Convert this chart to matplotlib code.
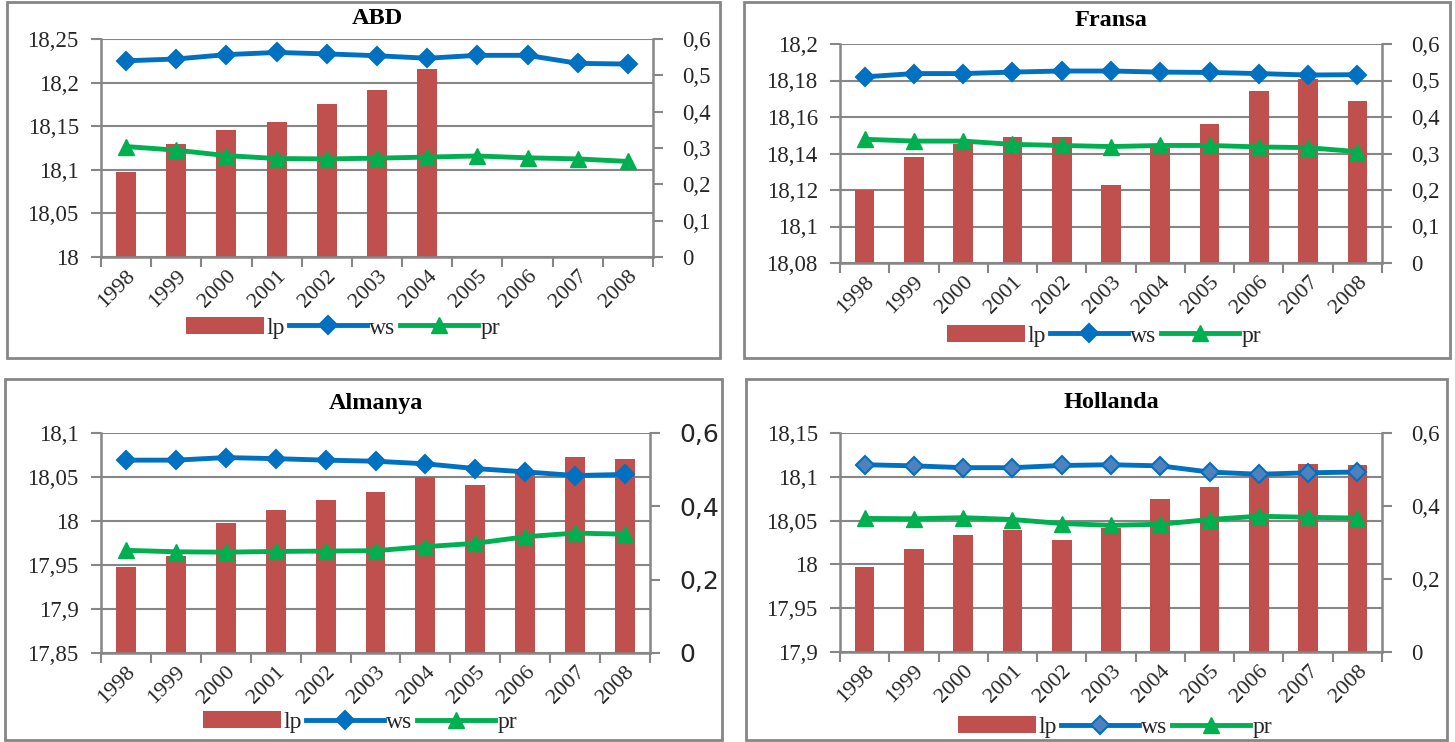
import numpy as np
import matplotlib
matplotlib.use("Agg")
import matplotlib.pyplot as plt
from matplotlib.patches import Rectangle
from matplotlib.ticker import FuncFormatter, FixedLocator

years = ["1998", "1999", "2000", "2001", "2002", "2003", "2004", "2005", "2006", "2007", "2008"]

# ABD
abd_lp = [18.097, 18.130, 18.146, 18.155, 18.175, 18.192, 18.216, np.nan, np.nan, np.nan, np.nan]
abd_ws = [0.540, 0.545, 0.557, 0.563, 0.559, 0.554, 0.547, 0.555, 0.555, 0.533, 0.531]
abd_pr = [0.304, 0.294, 0.279, 0.271, 0.270, 0.272, 0.275, 0.278, 0.273, 0.270, 0.263]

# Fransa
fra_lp = [18.120, 18.138, 18.145, 18.149, 18.149, 18.123, 18.143, 18.156, 18.174, 18.181, 18.169]
fra_ws = [0.510, 0.519, 0.519, 0.523, 0.526, 0.526, 0.523, 0.522, 0.519, 0.515, 0.516]
fra_pr = [0.339, 0.334, 0.334, 0.325, 0.322, 0.319, 0.322, 0.322, 0.318, 0.316, 0.305]

# Almanya
alm_lp = [17.948, 17.960, 17.998, 18.013, 18.024, 18.033, 18.050, 18.041, 18.057, 18.073, 18.070]
alm_ws = [0.526, 0.526, 0.533, 0.530, 0.526, 0.523, 0.516, 0.503, 0.494, 0.484, 0.487]
alm_pr = [0.280, 0.276, 0.275, 0.277, 0.278, 0.279, 0.290, 0.299, 0.317, 0.327, 0.324]

# Hollanda
hol_lp = [17.997, 18.018, 18.034, 18.039, 18.028, 18.041, 18.075, 18.088, 18.103, 18.115, 18.114]
hol_ws = [0.513, 0.510, 0.505, 0.505, 0.511, 0.513, 0.510, 0.493, 0.487, 0.491, 0.493]
hol_pr = [0.366, 0.365, 0.368, 0.363, 0.352, 0.347, 0.350, 0.363, 0.372, 0.369, 0.367]

W, H = 1455, 742
BAR = "#C0504D"
WS = "#0070C0"
PR = "#00B050"
GRID = "#868686"
TXT = "#262626"

plt.rcParams["font.family"] = ["Liberation Serif", "DejaVu Serif"]

fig = plt.figure(figsize=(W / 100, H / 100), dpi=100)


def comma(v, pos=None):
    return f"{round(v, 4):g}".replace(".", ",")


def panel(box, plot, title, title_y, legend_xy, lp, ws, pr, ylim, ystep, rstep,
          ws_face=WS, right_font=None):
    # outer frame
    bx0, by0, bx1, by1 = box
    fig.patches.append(Rectangle((bx0 / W, 1 - by1 / H), (bx1 - bx0) / W, (by1 - by0) / H,
                                 transform=fig.transFigure, fill=False,
                                 edgecolor=GRID, linewidth=2))
    x0, y0, x1, y1 = plot
    ax = fig.add_axes([x0 / W, 1 - y1 / H, (x1 - x0) / W, (y1 - y0) / H])
    x = np.arange(len(years))
    ax.bar(x, lp, width=0.4, color=BAR, zorder=2, label="lp")
    ax.set_xlim(-0.5, len(years) - 0.5)
    ax.set_ylim(*ylim)
    ax.set_yticks(np.arange(ylim[0], ylim[1] + ystep / 2, ystep))
    ax.yaxis.set_major_formatter(FuncFormatter(comma))
    ax.grid(axis="y", color=GRID, linewidth=1.5, zorder=0)
    ax.set_axisbelow(True)
    ax.xaxis.set_major_locator(FixedLocator(np.arange(-0.5, len(years), 1.0)))
    ax.xaxis.set_major_formatter(FuncFormatter(lambda v, p: ""))
    ax.xaxis.set_minor_locator(FixedLocator(x))
    ax.set_xticklabels(years, minor=True, rotation=45, ha="right", rotation_mode="anchor",
                       fontsize=16, color=TXT)
    ax.tick_params(axis="x", which="minor", length=0, pad=7)
    ax.tick_params(axis="x", which="major", length=7, width=1.5, color=GRID)
    ax.tick_params(axis="y", length=7, width=1.5, color=GRID, labelsize=16.5,
                   labelcolor=TXT, pad=9)
    for s in ["top", "right"]:
        ax.spines[s].set_visible(False)
    for s in ["left", "bottom"]:
        ax.spines[s].set_color(GRID)
        ax.spines[s].set_linewidth(1.8)

    ax2 = ax.twinx()
    ax2.plot(x, ws, color=WS, linewidth=3.5, marker="D", markersize=9.5,
             markerfacecolor=ws_face, markeredgecolor=WS, markeredgewidth=1.5, label="ws", zorder=3)
    ax2.plot(x, pr, color=PR, linewidth=3.5, marker="^", markersize=11.5,
             markerfacecolor=PR, markeredgecolor=PR, label="pr", zorder=3)
    ax2.set_ylim(0, 0.6)
    ax2.set_yticks(np.arange(0, 0.6 + rstep / 2, rstep))
    ax2.yaxis.set_major_formatter(FuncFormatter(comma))
    ax2.tick_params(axis="y", length=7, width=1.5, color=GRID, labelsize=16.5,
                    labelcolor=TXT, pad=14)
    if right_font:
        for t in ax2.get_yticklabels():
            t.set_fontfamily(right_font)
            t.set_fontsize(18)
    for s in ["top", "left", "bottom"]:
        ax2.spines[s].set_visible(False)
    ax2.spines["right"].set_color(GRID)
    ax2.spines["right"].set_linewidth(1.8)

    fig.text((x0 + x1) / 2 / W, 1 - title_y / H, title, ha="center", va="center",
             fontsize=17.5, fontweight="bold", color="black")

    handles = [ax.containers[0]] + ax2.get_lines()
    fig.legend(handles, ["lp", "ws", "pr"], loc="center",
               bbox_to_anchor=(legend_xy[0] / W, 1 - legend_xy[1] / H), ncol=3,
               frameon=False, fontsize=17, handlelength=3.3, handletextpad=0.1,
               columnspacing=0.2, labelcolor=TXT)


panel((7, 2, 720, 358), (101, 39, 653, 257), "ABD", 18, (343, 328),
      abd_lp, abd_ws, abd_pr, (18.0, 18.25), 0.05, 0.1)
panel((744, 2, 1450, 358), (840, 44, 1382, 263), "Fransa", 21, (1104, 336),
      fra_lp, fra_ws, fra_pr, (18.08, 18.2), 0.02, 0.1)
panel((5, 379, 722, 740), (101, 433, 650, 653), "Almanya", 403, (360, 722),
      alm_lp, alm_ws, alm_pr, (17.85, 18.1), 0.05, 0.2, right_font="DejaVu Sans")
panel((746, 379, 1447, 740), (840, 433, 1382, 652), "Hollanda", 403, (1115, 727),
      hol_lp, hol_ws, hol_pr, (17.9, 18.15), 0.05, 0.2, ws_face="#4F81BD")

fig.savefig("out.png", dpi=100)
